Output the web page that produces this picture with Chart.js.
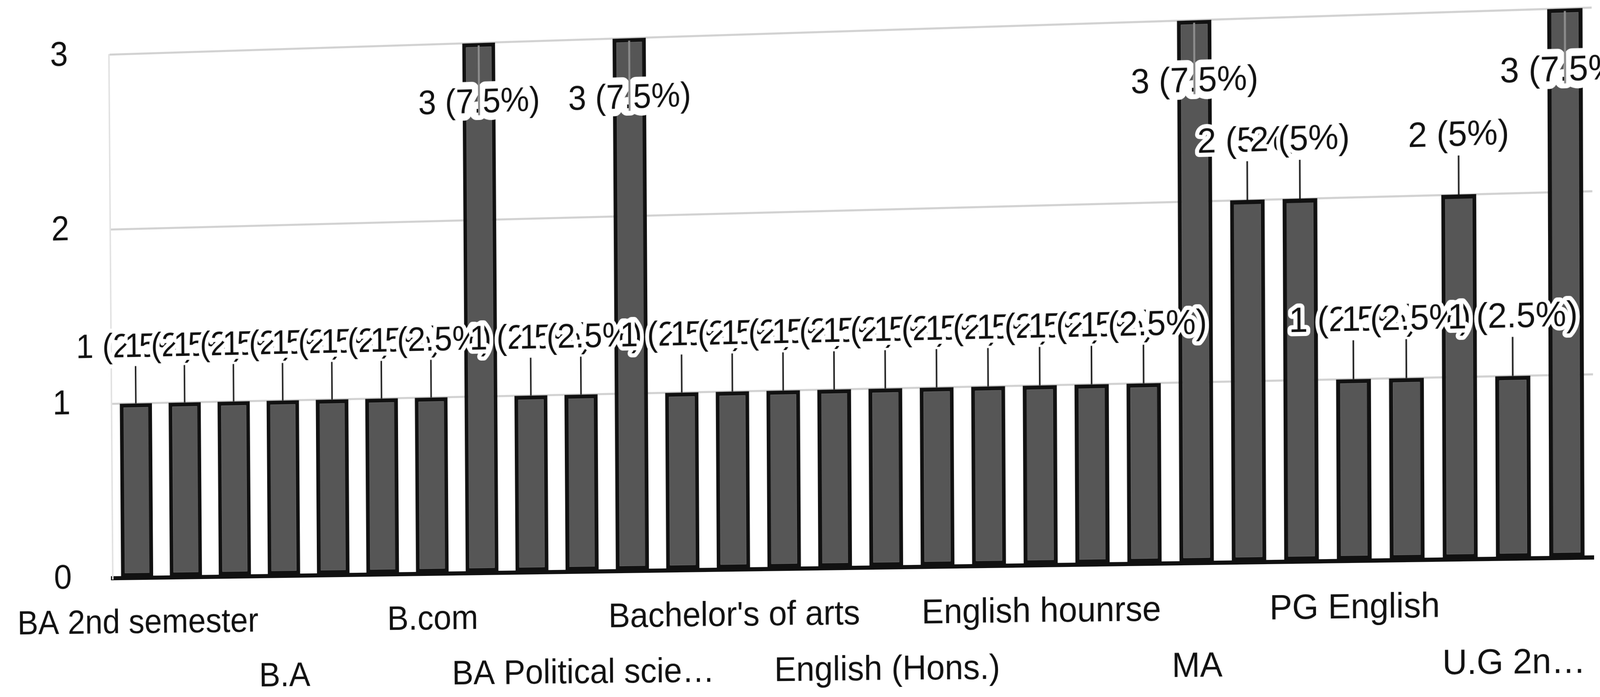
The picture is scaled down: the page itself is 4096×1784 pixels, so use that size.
<!DOCTYPE html>
<html>
<head>
<meta charset="utf-8">
<script src="https://cdn.jsdelivr.net/npm/chart.js@4.4.1/dist/chart.umd.min.js"></script>
<style>
  html, body { margin: 0; padding: 0; background: #fff; overflow: hidden; }
  #wrap { width: 4096px; height: 1784px; position: relative; overflow: hidden; }
  #chart { position: absolute; left: 0; top: 0; transform-origin: 0 0; }
</style>
</head>
<body>
<div id="wrap"><canvas id="chart" width="4096" height="1784"></canvas></div>
<script>
// answers to "course" question, 29 bars, only every 3rd name is printed on the axis
const categories = [
  'BA 2nd semester', '', '', 'B.A', '', '', 'B.com', '', '',
  'BA Political scie…', '', '', "Bachelor's of arts", '', '', 'English (Hons.)', '', '',
  'English hounrse', '', '', 'MA', '', '', 'PG English', '', '', 'U.G 2n…', ''
];
const counts = [1, 1, 1, 1, 1, 1, 1, 3, 1, 1, 3, 1, 1, 1, 1, 1, 1, 1, 1, 1, 1, 3, 2, 2, 1, 1, 2, 1, 3];
const yTicks = [0, 1, 2, 3];

const total = counts.reduce((a, b) => a + b, 0);
const pct = v => Math.round(v / total * 1000) / 10;

const FONT = '"Liberation Sans", Arial, sans-serif';
Chart.defaults.font.family = FONT;
Chart.defaults.color = '#111';

// value labels "n (x%)" with stem, drawn over the bars in order
const annotate = {
  id: 'annotate',
  afterDatasetsDraw(chart) {
    const ctx = chart.ctx;
    const area = chart.chartArea;
    const bars = chart.getDatasetMeta(0).data;
    ctx.save();
    ctx.font = '84px ' + FONT;
    ctx.textAlign = 'center';
    ctx.textBaseline = 'middle';
    ctx.lineJoin = 'round';
    bars.forEach((bar, i) => {
      const v = counts[i];
      const text = v + ' (' + pct(v) + '%)';
      const ly = bar.y - 138;
      if (ly - 45 > area.top) {
        ctx.strokeStyle = '#222';
        ctx.lineWidth = 4;
        ctx.beginPath();
        ctx.moveTo(bar.x, bar.y - 92);
        ctx.lineTo(bar.x, bar.y);
        ctx.stroke();
        ctx.strokeStyle = '#fff';
        ctx.lineWidth = 20;
        ctx.strokeText(text, bar.x, ly);
        ctx.fillStyle = '#111';
        ctx.fillText(text, bar.x, ly);
      } else {
        // no room above: label goes inside the bar
        const iy = bar.y + 146;
        ctx.strokeStyle = '#fff';
        ctx.lineWidth = 36;
        ctx.strokeText(text, bar.x, iy);
        ctx.fillStyle = '#111';
        ctx.fillText(text, bar.x, iy);
        ctx.strokeStyle = '#8c8c8c';
        ctx.lineWidth = 5;
        ctx.beginPath();
        ctx.moveTo(bar.x, iy + 30);
        ctx.lineTo(bar.x, bar.y + 6);
        ctx.stroke();
      }
    });
    ctx.restore();
  }
};

const chart = new Chart(document.getElementById('chart'), {
  type: 'bar',
  data: {
    labels: categories,
    datasets: [{
      data: counts,
      backgroundColor: '#565656',
      borderColor: '#111',
      borderWidth: 10,
      borderSkipped: false,
      barPercentage: 0.66,
      categoryPercentage: 1
    }]
  },
  options: {
    responsive: false,
    maintainAspectRatio: false,
    devicePixelRatio: 1,
    animation: false,
    layout: { padding: { left: 0, right: 20, top: 74, bottom: 0 } },
    plugins: { legend: { display: false }, tooltip: { enabled: false } },
    scales: {
      x: {
        grid: { display: false },
        border: { display: true, color: '#111', width: 10 },
        ticks: {
          autoSkip: false,
          maxRotation: 0,
          minRotation: 0,
          padding: 38,
          font: { size: 84, lineHeight: 1.6 },
          color: '#111',
          callback: function (value, index) {
            const lab = this.getLabelForValue(value);
            return index % 6 === 3 ? ['', lab] : lab;
          }
        },
        afterFit: s => { s.height = 331; }
      },
      y: {
        min: yTicks[0],
        max: yTicks[yTicks.length - 1],
        grid: {
          drawTicks: false,
          lineWidth: 5,
          color: c => (c.tick && c.tick.value === 0 ? 'rgba(0,0,0,0)' : '#d2d2d2')
        },
        border: { display: true, color: '#e2e2e2', width: 4 },
        afterBuildTicks: s => { s.ticks = yTicks.map(v => ({ value: v })); },
        ticks: { padding: 110, font: { size: 86 }, color: '#111' },
        afterFit: s => { s.width = 286; }
      }
    }
  },
  plugins: [annotate]
});

// the reference is a photo of a tilted page: warp the flat chart with a homography
function solveHomography(src, dst) {
  const A = [], B = [];
  for (let k = 0; k < 4; k++) {
    const [x, y] = src[k], [X, Y] = dst[k];
    A.push([x, y, 1, 0, 0, 0, -x * X, -y * X]); B.push(X);
    A.push([0, 0, 0, x, y, 1, -x * Y, -y * Y]); B.push(Y);
  }
  const n = 8;
  for (let c = 0; c < n; c++) {
    let p = c;
    for (let r = c + 1; r < n; r++) if (Math.abs(A[r][c]) > Math.abs(A[p][c])) p = r;
    [A[c], A[p]] = [A[p], A[c]];
    [B[c], B[p]] = [B[p], B[c]];
    for (let r = c + 1; r < n; r++) {
      const f = A[r][c] / A[c][c];
      for (let k = c; k < n; k++) A[r][k] -= f * A[c][k];
      B[r] -= f * B[c];
    }
  }
  const h = new Array(n);
  for (let r = n - 1; r >= 0; r--) {
    let s = B[r];
    for (let k = r + 1; k < n; k++) s -= A[r][k] * h[k];
    h[r] = s / A[r][r];
  }
  return h;
}

const xs = chart.scales.x, ys = chart.scales.y;
const xa = xs.getPixelForValue(0), xb = xs.getPixelForValue(counts.length - 1);
const y0 = ys.getPixelForValue(0), y3 = ys.getPixelForValue(3);
const src = [[xa, y0], [xb, y0], [xa, y3], [xb, y3]];
const dst = [[351.0, 1479.0], [4011.0, 1427.7], [341.2, 138.0], [4006.1, 21.7]];
const h = solveHomography(src, dst);
const f = v => v.toFixed(12);
document.getElementById('chart').style.transform =
  'matrix3d(' + [f(h[0]), f(h[3]), 0, f(h[6]), f(h[1]), f(h[4]), 0, f(h[7]), 0, 0, 1, 0, f(h[2]), f(h[5]), 0, 1].join(',') + ')';
</script>
</body>
</html>
